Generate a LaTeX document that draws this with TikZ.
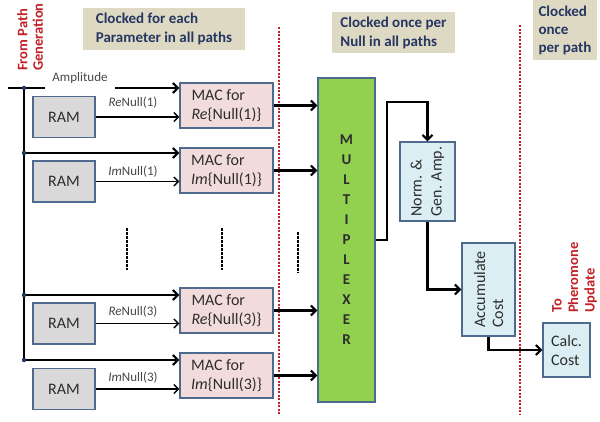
\documentclass[tikz,border=0pt]{standalone}
\usepackage{fontspec}
\setmainfont{Carlito}
\usetikzlibrary{arrows.meta}

\definecolor{boxedge}{RGB}{79,106,143}
\definecolor{ramfill}{RGB}{217,217,217}
\definecolor{macfill}{RGB}{242,220,219}
\definecolor{muxfill}{RGB}{146,208,80}
\definecolor{stagefill}{RGB}{219,238,244}
\definecolor{notefill}{RGB}{221,217,195}
\definecolor{notetext}{RGB}{38,54,98}
\definecolor{tagred}{RGB}{192,32,38}
\definecolor{inkgray}{RGB}{45,45,45}
\definecolor{labelgray}{RGB}{70,70,70}

\begin{document}
\begin{tikzpicture}[x=1pt,y=-1pt]
\tikzstyle{every node} = [inner sep=0pt, text=inkgray]
\tikzstyle{unit} = [draw=boxedge, line width=1.2pt, align=left, font=\fontsize{16}{19}\selectfont]
\tikzstyle{ram} = [unit, fill=ramfill, minimum width=62pt, minimum height=41pt]
\tikzstyle{mac} = [unit, fill=macfill, minimum width=93pt, minimum height=45pt]
\tikzstyle{stage} = [unit, fill=stagefill]
\tikzstyle{note} = [fill=notefill, text=notetext, align=left, font=\bfseries\fontsize{15}{19}\selectfont]
\tikzstyle{flowtag} = [text=tagred, align=left, font=\bfseries\fontsize{14.5}{15.5}\selectfont, rotate=90, anchor=north west]
\tikzstyle{small} = [font=\fontsize{13}{15}\selectfont, text=labelgray]
\tikzstyle{wire} = [line width=2.1pt, -{Straight Barb[length=5pt,width=10pt]}]
\tikzstyle{feed} = [line width=1.4pt, -{Straight Barb[length=4.5pt,width=9pt]}]
\tikzstyle{divider} = [draw=tagred, line width=1.3pt, dash pattern=on 2pt off 1.5pt]
\tikzstyle{more} = [line width=1.6pt, dash pattern=on 2.5pt off 1.5pt]

\useasboundingbox (0,0) rectangle (600,421);

\path (164,29) node[note, minimum width=162pt, minimum height=42pt] (clkparam) {Clocked for each\\Parameter in all paths}
		(393.5,32.5) node[note, minimum width=123pt, minimum height=41pt] (clknull) {Clocked once per\\Null in all paths}
		(565,30) node[note, minimum width=64pt, minimum height=60pt, font=\bfseries\fontsize{15}{18}\selectfont] (clkpath) {Clocked\\once\\per path}
		(17,71) node[flowtag] (frompath) {From Path\\Generation}
		(552,313) node[flowtag, font=\bfseries\fontsize{14.5}{16.5}\selectfont] (topher) {To\\Pheromone\\Update}
		(64,117) node[ram] (ram1) {RAM}
		(64,181.5) node[ram] (ram2) {RAM}
		(64,323.5) node[ram] (ram3) {RAM}
		(64,389) node[ram] (ram4) {RAM}
		(226.5,105.5) node[mac] (mac1) {MAC for\\\textit{Re}\{Null(1)\}}
		(226.5,170.5) node[mac] (mac2) {MAC for\\\textit{Im}\{Null(1)\}}
		(226.5,310.5) node[mac] (mac3) {MAC for\\\textit{Re}\{Null(3)\}}
		(226.5,375.5) node[mac] (mac4) {MAC for\\\textit{Im}\{Null(3)\}}
		(346.5,240) node[unit, fill=muxfill, minimum width=57pt, minimum height=324pt, align=center, font=\bfseries\fontsize{15}{20}\selectfont] (mux) {M\\U\\L\\T\\I\\P\\L\\E\\X\\E\\R}
		(427.5,181.5) node[stage, rotate=90, minimum width=79pt, minimum height=55pt, font=\fontsize{16}{20}\selectfont] (norm) {Norm. \&\\Gen. Amp.}
		(488.5,289.5) node[stage, rotate=90, minimum width=93pt, minimum height=53pt, font=\fontsize{16}{18}\selectfont] (acc) {Accumulate\\Cost}
		(566.5,350) node[stage, minimum width=47pt, minimum height=54pt] (calc) {Calc.\\Cost}
		(80,78) node[small] (amp) {Amplitude}
		(133,103) node[small] (relbl1) {\textit{Re}Null(1)}
		(133,172) node[small] (imlbl1) {\textit{Im}Null(1)}
		(133,312) node[small] (relbl3) {\textit{Re}Null(3)}
		(133,378) node[small] (imlbl3) {\textit{Im}Null(3)};

\coordinate (src) at (8,88);
\coordinate (gapl) at (45,88);
\coordinate (gapr) at (115,88);
\coordinate (j1) at (24,88);
\coordinate (j2) at (24,153);
\coordinate (j3) at (24,295);
\coordinate (j4) at (24,360);
\coordinate (bend) at (387,102);

\draw[divider] (279,27) -- (279,415);
\draw[divider] (520,25) -- (520,415);
\draw[more] (127,228) -- (127,270);
\draw[more] (222,228) -- (222,270);
\draw[more] (298,232) -- (298,273);

\draw[line width=2.1pt] (j1) -- (j4);
\draw[line width=2.1pt] (src) -- (gapl);
\draw[wire] (gapr) -- (gapr -| mac1.west);
\draw[wire] (j2) -- (j2 -| mac2.west);
\draw[wire] (j3) -- (j3 -| mac3.west);
\draw[wire] (j4) -- (j4 -| mac4.west);
\foreach \j in {j1,j2,j3,j4} \fill[notetext] (\j) circle (2.2pt);

\draw[feed] (ram1.east) -- (ram1.east -| mac1.west);
\draw[feed] (ram2.east) -- (ram2.east -| mac2.west);
\draw[feed] (ram3.east) -- (ram3.east -| mac3.west);
\draw[feed] (ram4.east) -- (ram4.east -| mac4.west);

\draw[wire] (mac1.east) -- (mac1.east -| mux.west);
\draw[wire] (mac2.east) -- (mac2.east -| mux.west);
\draw[wire] (mac3.east) -- (mac3.east -| mux.west);
\draw[wire] (mac4.east) -- (mac4.east -| mux.west);

\draw[wire] (mux.east) -- (mux.east -| bend) -- (bend) -| (norm.east);
\draw[wire] (norm.west) |- (acc.north);
\draw[wire] (acc.west) |- (calc.west);
\end{tikzpicture}
\end{document}
